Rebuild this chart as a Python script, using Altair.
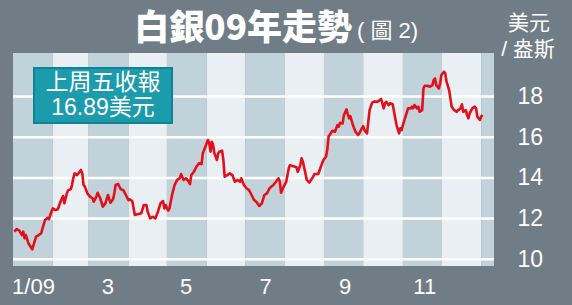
import altair as alt
import pandas as pd

# ---- data ----
day_offsets = [1, 3, 5, 7, 8, 9, 10, 12, 14, 15, 16, 18, 20, 22, 23, 25, 27, 28, 30, 31,
               33, 35, 37, 39, 40, 42, 43, 45, 46, 47, 48, 50, 52, 53, 54, 55, 56, 58, 60, 62,
               63, 65, 66, 68, 70, 72, 73, 74, 76, 78, 79, 80, 82, 84, 86, 88, 90, 91, 93, 95,
               97, 100, 102, 104, 105, 107, 109, 111, 113, 115, 117, 118, 119, 121, 122, 124, 126, 128, 130, 131,
               133, 135, 137, 138, 139, 141, 143, 145, 147, 148, 150, 151, 152, 153, 154, 155, 156, 157, 159, 160,
               161, 163, 164, 165, 167, 169, 171, 173, 175, 177, 178, 180, 182, 184, 186, 188, 190, 192, 194, 196,
               198, 200, 202, 203, 205, 207, 208, 209, 211, 213, 215, 216, 218, 221, 222, 224, 225, 226, 228, 229,
               231, 234, 235, 238, 240, 242, 244, 245, 246, 248, 249, 251, 253, 254, 255, 257, 258, 260, 261, 262,
               263, 265, 267, 269, 270, 272, 273, 274, 276, 277, 278, 280, 282, 284, 286, 287, 289, 290, 291, 293,
               294, 296, 298, 299, 301, 302, 303, 304, 306, 308, 310, 311, 312, 313, 315, 316, 317, 319, 320, 321,
               323, 325, 327, 328, 329, 330, 332, 333, 334, 336, 337, 338, 340, 341, 342, 344, 346, 347, 349, 350,
               351, 353, 354, 355, 356, 358, 360, 361, 362, 364, 365, 366]
prices = [11.36, 11.49, 11.40, 11.19, 11.36, 11.03, 11.19, 10.79, 10.59, 10.49, 10.70, 11.11, 11.19, 11.28, 11.52, 11.93, 12.04, 11.97, 12.34, 12.50,
          12.42, 12.46, 12.83, 13.11, 12.75, 13.24, 13.40, 13.44, 13.65, 13.98, 14.22, 14.14, 14.30, 14.39, 14.22, 13.65, 13.57, 13.24, 13.08, 13.00,
          12.83, 13.08, 13.27, 13.00, 12.59, 12.75, 12.95, 13.16, 12.78, 12.95, 13.24, 13.65, 13.70, 13.44, 13.40, 13.16, 12.91, 12.95, 12.85, 12.18,
          12.21, 12.26, 12.67, 12.67, 12.34, 12.01, 12.09, 12.01, 12.34, 12.75, 12.86, 12.50, 12.67, 12.39, 12.50, 13.16, 13.65, 13.90, 13.98, 14.19,
          13.90, 13.98, 13.81, 13.70, 14.14, 14.30, 14.55, 14.72, 14.68, 15.21, 15.53, 15.70, 15.86, 15.70, 15.29, 15.78, 15.62, 15.21, 14.88, 15.21,
          15.29, 15.34, 14.88, 14.06, 14.14, 14.22, 14.14, 13.81, 13.90, 13.81, 13.98, 13.65, 13.49, 13.40, 13.16, 12.91, 12.80, 12.62, 12.75, 13.16,
          13.24, 13.49, 13.60, 13.65, 13.81, 13.98, 13.81, 13.27, 13.57, 13.81, 14.47, 14.63, 14.58, 14.52, 14.30, 14.63, 14.96, 14.80, 14.22, 13.90,
          13.77, 14.06, 14.19, 14.19, 14.55, 14.88, 15.04, 15.37, 16.02, 16.22, 16.32, 16.27, 16.60, 16.52, 16.71, 16.68, 17.09, 17.37, 17.14, 16.93,
          17.04, 16.60, 16.27, 16.11, 16.19, 16.44, 16.55, 16.35, 16.19, 16.76, 17.33, 17.70, 17.76, 17.74, 17.83, 17.88, 17.42, 17.67, 17.74, 17.58,
          17.67, 17.62, 16.93, 16.60, 16.19, 16.44, 16.35, 16.60, 17.01, 17.42, 17.42, 17.50, 17.42, 17.58, 17.42, 17.50, 17.25, 17.33, 18.40, 18.53,
          18.53, 18.48, 18.56, 18.81, 18.89, 18.56, 18.40, 18.65, 19.06, 19.22, 19.14, 18.73, 18.32, 17.91, 17.50, 17.33, 17.25, 17.33, 17.42, 17.62,
          17.25, 17.33, 17.09, 16.93, 17.17, 17.42, 17.50, 17.42, 17.01, 16.85, 17.01, 17.09]

month_starts = ["2009-01-01", "2009-02-01", "2009-03-01", "2009-04-01", "2009-05-01", "2009-06-01",
                "2009-07-01", "2009-08-01", "2009-09-01", "2009-10-01", "2009-11-01", "2009-12-01",
                "2010-01-01", "2010-02-01"]
tick_days = [16, 74, 135, 197, 259, 321]
tick_labels = ["1/09", "3", "5", "7", "9", "11"]
y_ticks = [10, 12, 14, 16, 18]

title_text = "白銀09年走勢"
subtitle_text = "( 圖 2)"
unit_line1 = "美元"
unit_line2 = "/ 盎斯"
note_line1 = "上周五收報"
note_line2 = "16.89美元"

# ---- styling ----
BG = "#707d87"
DARK = "#c2d2da"
LIGHT = "#e9eff3"
RED = "#e3101a"
TEAL = "#1b9bab"
TEAL_EDGE = "#0e8393"
W, H = 481, 213
FONT = "Liberation Sans, Noto Sans CJK TC, sans-serif"
TITLE_FONT = "Noto Sans CJK TC, sans-serif"

base = pd.Timestamp("2009-01-01")
line_df = pd.DataFrame({
    "date": [(base + pd.Timedelta(days=d)).strftime("%Y-%m-%d") for d in day_offsets],
    "price": prices,
})
band_df = pd.DataFrame({
    "start": month_starts[:-1],
    "end": month_starts[1:],
    "shade": [i % 2 for i in range(len(month_starts) - 1)],
})
tick_df = pd.DataFrame({
    "date": [(base + pd.Timedelta(days=d)).strftime("%Y-%m-%d") for d in tick_days],
    "label": tick_labels,
})
grid_df = pd.DataFrame({"v": y_ticks})

xscale = alt.Scale(domain=["2009-01-01", "2010-01-11"], nice=False)
yscale = alt.Scale(domain=[9.67, 20.14], nice=False, zero=False)
yaxis = alt.Axis(orient="right", values=y_ticks, title=None, domain=False, ticks=False,
                 grid=False, labelColor="white", labelFontSize=23, labelFont=FONT,
                 labelPadding=23, labelAlign="left", labelBaseline="middle")

bands = alt.Chart(band_df).mark_rect(clip=True).encode(
    x=alt.X("start:T", scale=xscale, axis=None),
    x2="end:T",
    y=alt.value(0),
    y2=alt.value(H),
    color=alt.Color("shade:N", scale=alt.Scale(domain=[0, 1], range=[DARK, LIGHT]), legend=None),
)

grid = alt.Chart(grid_df).mark_rule(color="white", strokeWidth=2.5).encode(
    y=alt.Y("v:Q", scale=yscale, axis=yaxis),
)

line = alt.Chart(line_df).mark_line(color=RED, strokeWidth=2.6, strokeJoin="round").encode(
    x=alt.X("date:T", scale=xscale, axis=None),
    y=alt.Y("price:Q", scale=yscale, axis=yaxis),
)

xlabels = alt.Chart(tick_df).mark_text(color="white", fontSize=22, font=FONT, baseline="middle").encode(
    x=alt.X("date:T", scale=xscale, axis=None),
    y=alt.value(H + 21),
    text="label:N",
)

one = pd.DataFrame({"k": [0]})

title = alt.Chart(one).mark_text(text=title_text, color="white", fontSize=35, fontWeight=900,
                                 font=TITLE_FONT, align="right", baseline="middle").encode(
    x=alt.value(339), y=alt.value(-24))
subtitle = alt.Chart(one).mark_text(text=subtitle_text, color="white", fontSize=22,
                                    font=FONT, align="left", baseline="middle").encode(
    x=alt.value(344), y=alt.value(-22))
unit1 = alt.Chart(one).mark_text(text=unit_line1, color="white", fontSize=21, font=FONT,
                                 align="center", baseline="middle").encode(
    x=alt.value(516), y=alt.value(-29))
unit2 = alt.Chart(one).mark_text(text=unit_line2, color="white", fontSize=21, font=FONT,
                                 align="center", baseline="middle").encode(
    x=alt.value(515), y=alt.value(-3))

box = alt.Chart(one).mark_rect(fill=TEAL, stroke=TEAL_EDGE, strokeWidth=2).encode(
    x=alt.value(21), x2=alt.value(159), y=alt.value(15), y2=alt.value(70))
note1 = alt.Chart(one).mark_text(text=note_line1, color="white", fontSize=23, font=FONT,
                                 align="center", baseline="middle").encode(
    x=alt.value(90), y=alt.value(30))
note2 = alt.Chart(one).mark_text(text=note_line2, color="white", fontSize=23, font=FONT,
                                 align="center", baseline="middle").encode(
    x=alt.value(90), y=alt.value(55))

chart = alt.layer(bands, grid, line, xlabels, title, subtitle, unit1, unit2, box, note1, note2).properties(
    width=W, height=H,
    autosize=alt.AutoSizeParams(type="none"),
    padding={"left": 13, "top": 53, "right": 78, "bottom": 39},
    background=BG,
).configure_view(stroke=None)

chart.save("out.html", embed_options={"renderer": "svg", "actions": False})
